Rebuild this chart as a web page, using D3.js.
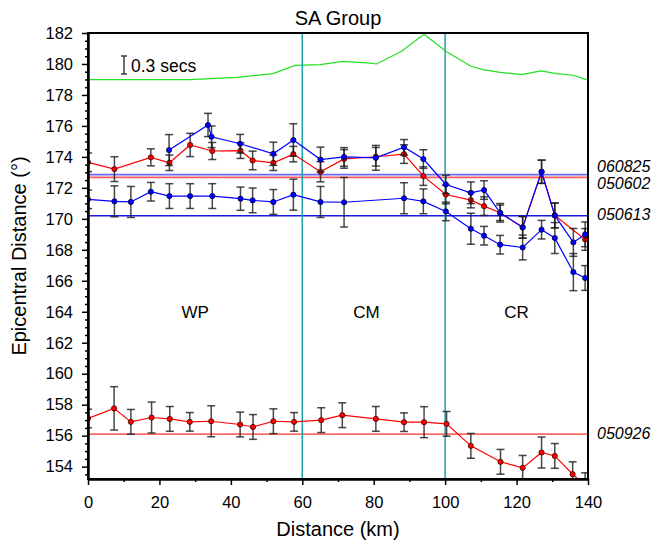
<!DOCTYPE html>
<html>
<head>
<meta charset="utf-8">
<script src="https://cdn.jsdelivr.net/npm/d3@7"></script>
<style>
  body { margin: 0; background: #fff; }
  text { font-family: "Liberation Sans", Arial, sans-serif; fill: #000; }
</style>
</head>
<body>
<div id="chart"></div>
<script>
var svgWidth = 653;
var svgHeight = 545;

var margin = { top: 33, right: 65, bottom: 66, left: 88 };
var width = svgWidth - margin.left - margin.right;
var height = svgHeight - margin.top - margin.bottom;

// travel-time trace (scale bar 0.3 secs)
var greenKm = [0, 28.6, 41.7, 51.8, 58.0, 65.0, 71.4, 79.0, 80.8, 87.8, 94.1, 100.2, 107.2, 110.6, 115.4, 121.4, 126.8, 131.2, 135.8, 139.8];
var greenVal = [178.99, 178.99, 179.14, 179.38, 179.91, 179.96, 180.17, 180.05, 180.0, 180.82, 181.92, 180.82, 179.85, 179.63, 179.46, 179.31, 179.55, 179.38, 179.27, 178.97];

// 060825 (blue, upper)
var blueAKm = [22.7, 33.6, 34.6, 42.6, 51.9, 57.5, 65.1, 71.7, 80.6, 88.5, 93.9, 100.2, 107.2, 110.9, 115.4, 121.7, 127.0, 130.7, 135.9, 139.2];
var blueAVal = [174.44, 176.06, 175.30, 174.85, 174.20, 175.09, 173.83, 174.00, 173.94, 174.62, 173.86, 172.22, 171.68, 171.86, 170.39, 169.45, 173.04, 170.22, 168.48, 169.0];
var blueAErr = [1.0, 0.75, 0.7, 0.6, 0.75, 1.05, 0.8, 0.6, 0.8, 0.5, 0.6, 0.6, 0.7, 0.6, 0.6, 0.7, 0.75, 0.8, 0.9, 0.8];

// 050602 (red, upper)
var redAKm = [0, 7.4, 17.6, 22.8, 28.6, 34.8, 42.7, 46.1, 51.9, 57.5, 65.1, 71.7, 80.6, 88.5, 93.9, 100.2, 107.2, 110.9, 115.4, 121.7, 127.0, 130.7, 139.2];
var redAVal = [173.65, 173.21, 173.97, 173.62, 174.77, 174.38, 174.40, 173.77, 173.62, 174.18, 173.04, 173.87, 174.01, 174.18, 172.76, 171.57, 171.21, 170.82, 170.39, 169.45, 173.04, 170.22, 168.67];
var redAErr = [0.6, 0.8, 0.55, 0.5, 0.75, 0.55, 0.5, 0.6, 0.5, 0.5, 0.65, 0.6, 0.6, 0.6, 0.6, 0.6, 0.5, 0.6, 0.5, 0.7, 0.75, 0.8, 0.7];

// 050613 (blue, middle)
var blueBKm = [0, 7.4, 12, 17.6, 22.8, 28.6, 34.8, 42.7, 46.1, 51.9, 57.5, 65.1, 71.7, 88.5, 93.9, 100.2, 107.2, 110.9, 115.4, 121.7, 127.0, 130.7, 135.9, 139.2];
var blueBVal = [171.26, 171.13, 171.09, 171.75, 171.47, 171.47, 171.47, 171.30, 171.19, 171.09, 171.56, 171.09, 171.07, 171.33, 171.13, 170.48, 169.36, 168.91, 168.33, 168.15, 169.30, 168.76, 166.56, 166.18];
var blueBErr = [0.6, 1.0, 1.0, 0.6, 0.8, 0.8, 0.8, 0.75, 0.8, 0.8, 1.0, 1.0, 1.6, 1.0, 0.8, 0.6, 1.0, 0.6, 0.6, 0.8, 0.6, 1.0, 1.2, 0.8];

// 050926 (red, lower)
var redBKm = [0, 7.3, 12, 17.8, 22.9, 28.5, 34.5, 42.6, 46.2, 51.9, 57.7, 65.3, 71.2, 80.6, 88.5, 94.1, 100.4, 107.2, 115.5, 121.7, 127.0, 130.7, 135.7, 139.2];
var redBVal = [157.11, 157.76, 156.89, 157.17, 157.08, 156.89, 156.93, 156.72, 156.56, 156.93, 156.89, 157.00, 157.32, 157.08, 156.87, 156.87, 156.76, 155.34, 154.31, 153.92, 154.91, 154.69, 153.51, 152.8];
var redBErr = [0.6, 1.4, 0.8, 1.0, 0.8, 0.6, 1.0, 0.8, 0.8, 0.8, 0.6, 0.8, 0.8, 0.8, 0.6, 1.0, 0.8, 0.8, 0.8, 0.8, 1.0, 0.8, 0.8, 0.8];

// reference lines and their event labels
var refNames = ["060825", "050602", "050613", "050926"];
var refVals = [172.85, 172.68, 170.2, 156.1];

// region boundaries and names
var boundKm = [60, 100];
var regionNames = ["WP", "CM", "CR"];
var regionKm = [30, 78, 120];

var xTicks = [0, 20, 40, 60, 80, 100, 120, 140];
var yTicks = [154, 156, 158, 160, 162, 164, 166, 168, 170, 172, 174, 176, 178, 180, 182];

var svg = d3.select("#chart")
  .append("svg")
  .attr("width", svgWidth)
  .attr("height", svgHeight);

var chartGroup = svg.append("g")
  .attr("transform", `translate(${margin.left}, ${margin.top})`);

var xScale = d3.scaleLinear().domain([0, 140]).range([0, width]);
var yScale = d3.scaleLinear().domain([153.2, 182]).range([height, 0]);

chartGroup.append("clipPath")
  .attr("id", "plotclip")
  .append("rect")
  .attr("width", width)
  .attr("height", height);

var plot = chartGroup.append("g").attr("clip-path", "url(#plotclip)");

// reference lines
var refColors = ["#6a6aff", "#ff5a5a", "#1818e0", "#ff6a6a"];
var refWidths = [1.8, 1.8, 1.3, 1.6];
refVals.forEach(function(v, i) {
  plot.append("line")
    .attr("x1", 0).attr("x2", width)
    .attr("y1", yScale(v)).attr("y2", yScale(v))
    .attr("stroke", refColors[i])
    .attr("stroke-width", refWidths[i]);
});

// green trace
var line = d3.line().x(d => xScale(d[0])).y(d => yScale(d[1]));
plot.append("path")
  .datum(d3.zip(greenKm, greenVal))
  .attr("d", line)
  .attr("fill", "none")
  .attr("stroke", "#22e022")
  .attr("stroke-width", 1.2);

// region boundaries
boundKm.forEach(function(k) {
  plot.append("line")
    .attr("x1", xScale(k)).attr("x2", xScale(k))
    .attr("y1", 0).attr("y2", height)
    .attr("stroke", "#1aa3a8")
    .attr("stroke-width", 1.5);
});

// draw one series with error bars and dots
function drawSeries(km, val, err, color, dotStroke) {
  var pts = d3.zip(km, val, err);
  var bars = plot.append("g")
    .attr("stroke", "#1a1a1a")
    .attr("stroke-opacity", 0.8)
    .attr("stroke-width", 1.5);
  pts.forEach(function(p) {
    var x = xScale(p[0]);
    var y0 = yScale(p[1] - p[2]);
    var y1 = yScale(p[1] + p[2]);
    bars.append("line").attr("x1", x).attr("x2", x).attr("y1", y0).attr("y2", y1);
    bars.append("line").attr("x1", x - 4).attr("x2", x + 4).attr("y1", y0).attr("y2", y0);
    bars.append("line").attr("x1", x - 4).attr("x2", x + 4).attr("y1", y1).attr("y2", y1);
  });
  plot.append("path")
    .datum(pts)
    .attr("d", line)
    .attr("fill", "none")
    .attr("stroke", color)
    .attr("stroke-width", 1.2);
  plot.selectAll(null)
    .data(pts)
    .enter()
    .append("circle")
    .attr("cx", d => xScale(d[0]))
    .attr("cy", d => yScale(d[1]))
    .attr("r", 2.6)
    .attr("fill", color)
    .attr("stroke", dotStroke)
    .attr("stroke-width", 0.8);
}

drawSeries(redBKm, redBVal, redBErr, "#ff0000", "#400000");
drawSeries(blueBKm, blueBVal, blueBErr, "#0000ff", "#000040");
drawSeries(redAKm, redAVal, redAErr, "#ff0000", "#400000");
drawSeries(blueAKm, blueAVal, blueAErr, "#0000ff", "#000040");

// region names
regionNames.forEach(function(n, i) {
  chartGroup.append("text")
    .attr("x", xScale(regionKm[i]))
    .attr("y", yScale(164))
    .attr("dy", "0.35em")
    .attr("text-anchor", "middle")
    .attr("font-size", "17px")
    .text(n);
});

// scale bar 0.3 secs
var barX = 36;
var barTop = 23;
var barBot = 41;
chartGroup.append("g")
  .attr("stroke", "#222")
  .attr("stroke-width", 1.3)
  .call(g => {
    g.append("line").attr("x1", barX).attr("x2", barX).attr("y1", barTop).attr("y2", barBot);
    g.append("line").attr("x1", barX - 3).attr("x2", barX + 3).attr("y1", barTop).attr("y2", barTop);
    g.append("line").attr("x1", barX - 3).attr("x2", barX + 3).attr("y1", barBot).attr("y2", barBot);
  });
chartGroup.append("text")
  .attr("x", barX + 7)
  .attr("y", 39)
  .attr("font-size", "17.5px")
  .text("0.3 secs");

// frame
chartGroup.append("rect")
  .attr("width", width)
  .attr("height", height)
  .attr("fill", "none")
  .attr("stroke", "#000")
  .attr("stroke-width", 2);

// axes
var bottomAxis = d3.axisBottom(xScale).tickValues(xTicks).tickSize(6).tickSizeOuter(0).tickPadding(11);
var xAxis = chartGroup.append("g")
  .attr("transform", `translate(0, ${height})`)
  .call(bottomAxis);

var xMinor = chartGroup.append("g")
  .attr("transform", `translate(0, ${height})`)
  .call(d3.axisBottom(xScale).tickValues(d3.range(10, 140, 20)).tickSize(3).tickFormat("").tickSizeOuter(0));

var leftAxis = d3.axisLeft(yScale).tickValues(yTicks).tickSize(6).tickSizeOuter(0).tickPadding(9);
var yAxis = chartGroup.append("g").call(leftAxis);

var yMinor = chartGroup.append("g")
  .call(d3.axisLeft(yScale).tickValues(d3.range(153.5, 182, 0.5).filter(v => v % 2 !== 0)).tickSize(3).tickFormat("").tickSizeOuter(0));

[xAxis, yAxis, xMinor, yMinor].forEach(function(a) {
  a.select(".domain").attr("stroke-width", 2);
  a.selectAll(".tick line").attr("stroke-width", 1.5);
  a.selectAll("text").attr("font-size", "16.5px").attr("font-family", "Liberation Sans, Arial, sans-serif");
});

// reference labels on the right
var refLabelY = [166, 183, 214.5, 433];
refNames.forEach(function(n, i) {
  svg.append("text")
    .attr("x", 597)
    .attr("y", refLabelY[i])
    .attr("dy", "0.35em")
    .attr("font-size", "16px")
    .attr("font-style", "italic")
    .text(n);
});

// title and axis labels
svg.append("text")
  .attr("x", margin.left + width / 2)
  .attr("y", 25)
  .attr("text-anchor", "middle")
  .attr("font-size", "20px")
  .text("SA Group");

svg.append("text")
  .attr("x", margin.left + width / 2)
  .attr("y", 536)
  .attr("text-anchor", "middle")
  .attr("font-size", "20px")
  .text("Distance (km)");

svg.append("text")
  .attr("transform", "rotate(-90)")
  .attr("x", -(margin.top + height / 2))
  .attr("y", 26)
  .attr("text-anchor", "middle")
  .attr("font-size", "20px")
  .text("Epicentral Distance (°)");
</script>
</body>
</html>
